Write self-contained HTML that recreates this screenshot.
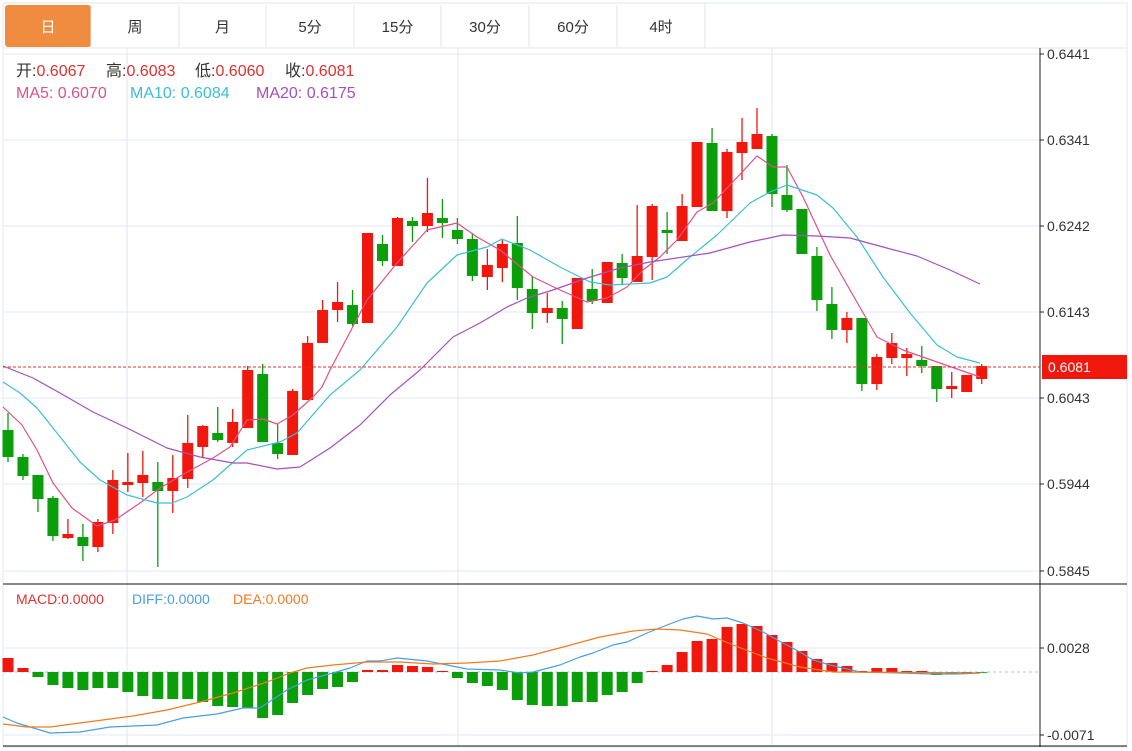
<!DOCTYPE html>
<html><head><meta charset="utf-8"><style>
html,body{margin:0;padding:0;background:#fff;width:1132px;height:751px;overflow:hidden}
body{font-family:"Liberation Sans","Noto Sans CJK SC",sans-serif}
svg{position:absolute;left:0;top:0}
</style></head><body>
<svg id="s" width="1132" height="751" xmlns="http://www.w3.org/2000/svg" font-family="Liberation Sans, Noto Sans CJK SC, sans-serif">
<rect x="3" y="3" width="1124" height="744" fill="#fff" stroke="#e3e8ee"/>
<g id="grid" stroke="#e6ecf2" stroke-width="1.3"></g>
<g id="main"></g>
</svg>
<script>
const s=document.getElementById('main');const g=document.getElementById('grid');
const NS='http://www.w3.org/2000/svg';
function el(p,t,a,txt){const e=document.createElementNS(NS,t);for(const k in a)e.setAttribute(k,a[k]);if(txt!==undefined)e.textContent=txt;p.appendChild(e);return e;}
[54,140,226,312,398,484,571,648,735].forEach(y=>el(g,'line',{x1:3,x2:1040,y1:y,y2:y}));
[127,458,772].forEach(x=>el(g,'line',{x1:x,x2:x,y1:48,y2:747}));
el(s,'rect',{x:3,y:3,width:702,height:45,fill:'#fff',stroke:'#e0e4e8'});
el(s,'line',{x1:3,x2:1127,y1:48,y2:48,stroke:'#e0e4e8'});
const tabs=['日','周','月','5分','15分','30分','60分','4时'];
const tx=[5,91,179,266,354,441,529,617,705];
tabs.forEach((t,i)=>{
 if(i==0)el(s,'rect',{x:5,y:5,width:86,height:42,rx:3,fill:'#f08c40'});
 else el(s,'line',{x1:tx[i],x2:tx[i],y1:5,y2:47,stroke:'#e0e4e8'});
 el(s,'text',{x:(tx[i]+tx[i+1])/2,y:32,'text-anchor':'middle','font-size':15,fill:i==0?'#fff':'#333'},t);
});
[[16,'开:','0.6067'],[106,'高:','0.6083'],[195,'低:','0.6060'],[285,'收:','0.6081']].forEach(a=>{
 const t=el(s,'text',{x:a[0],y:76,'font-size':16});
 el(t,'tspan',{fill:'#333'},a[1]);el(t,'tspan',{fill:'#e0312e'},a[2]);});
el(s,'text',{x:16,y:98,'font-size':16,fill:'#e0508a'},'MA5: 0.6070');
el(s,'text',{x:130,y:98,'font-size':16,fill:'#3bbfd6'},'MA10: 0.6084');
el(s,'text',{x:256,y:98,'font-size':16,fill:'#a54fc0'},'MA20: 0.6175');
el(s,'text',{x:16,y:604,'font-size':14,fill:'#e0312e'},'MACD:0.0000');
el(s,'text',{x:132,y:604,'font-size':14,fill:'#4a9fe0'},'DIFF:0.0000');
el(s,'text',{x:233,y:604,'font-size':14,fill:'#f07a22'},'DEA:0.0000');
el(s,'line',{x1:1040,x2:1040,y1:48,y2:747,stroke:'#222'});
el(s,'line',{x1:3,x2:1127,y1:584,y2:584,stroke:'#111'});
el(s,'line',{x1:3,x2:1127,y1:746,y2:746,stroke:'#111'});
[[54,'0.6441'],[140,'0.6341'],[226,'0.6242'],[312,'0.6143'],[398,'0.6043'],[484,'0.5944'],[571,'0.5845'],[648,'0.0028'],[735,'-0.0071']].forEach(a=>{
 el(s,'line',{x1:1040,x2:1044,y1:a[0],y2:a[0],stroke:'#222'});
 el(s,'text',{x:1047,y:a[0]+5,'font-size':14,fill:'#333'},a[1]);});
const C=[[430,457,413,462],[457,476,454,480],[475,499,475,512],[498,536,496,541],[538,534,519,539],[537,546,524,561],[547,522,519,552],[523,480,470,534],[485,482,453,492],[483,475,451,497],[482,491,462,567],[491,478,455,513],[479,443,415,488],[447,426,425,457],[433,440,407,442],[443,422,409,447],[428,370,366,428],[374,442,364,442],[443,454,424,459],[455,391,389,455],[400,343,336,400],[343,310,300,343],[310,302,282,322],[305,324,290,326],[323,233,233,323],[244,261,235,266],[266,218,217,266],[221,226,217,242],[226,213,178,232],[218,223,199,238],[230,239,218,244],[239,276,233,281],[277,265,249,290],[268,244,240,282],[243,288,216,300],[289,313,276,329],[313,308,293,323],[308,319,301,344],[329,278,278,329],[289,301,269,304],[303,262,262,303],[263,278,254,284],[282,256,205,282],[257,206,204,280],[230,233,212,254],[241,206,194,241],[207,142,142,207],[143,211,128,211],[211,152,149,218],[153,142,118,180],[149,134,108,149],[136,194,134,207],[195,210,165,212],[209,254,209,254],[256,300,247,311],[304,330,287,339],[330,318,312,343],[318,384,318,391],[384,357,354,390],[358,343,333,364],[358,354,348,376],[360,366,346,373],[366,389,366,402],[389,386,372,398],[392,375,375,392],[379,366,364,384]];
const X=i=>8+i*14.98;
C.forEach((c,i)=>{const x=X(i),up=c[1]<c[0],col=up?'#f0170c':'#0a9e0a';
 el(s,'line',{x1:x,x2:x,y1:c[2],y2:c[3],stroke:col,'stroke-width':1.3});
 const t=Math.min(c[0],c[1]),b=Math.max(c[0],c[1]);
 el(s,'rect',{x:x-5.5,y:t,width:11,height:Math.max(b-t,2.5),fill:col});});
function pl(pts,col,w){el(s,'polyline',{points:pts.map(p=>p.join(',')).join(' '),fill:'none',stroke:col,'stroke-width':w||1.2,'stroke-linejoin':'round'});}
pl([[3,407],[22,425],[37,450],[53,483],[72,508],[97,526],[115,520],[140,503],[160,488],[182,475],[213,458],[230,447],[247,420],[263,419],[277,424],[293,415],[313,397],[322,387],[330,370],[367,300],[397,263],[427,230],[457,223],[477,237],[500,250],[533,277],[560,290],[587,302],[607,298],[627,287],[643,270],[660,257],[677,240],[697,212],[713,203],[730,185],[757,156],[773,167],[787,167],[803,197],[830,255],[850,290],[877,337],[903,350],[937,362],[980,377]],'#e0508a');
pl([[3,382],[20,393],[37,408],[57,433],[80,462],[100,480],[127,495],[157,503],[172,503],[187,497],[213,480],[247,450],[280,442],[297,433],[330,395],[360,370],[397,327],[427,283],[457,255],[487,247],[502,239],[530,250],[560,267],[590,282],[610,285],[650,283],[667,277],[690,257],[717,235],[750,203],[770,192],[787,185],[817,195],[833,208],[857,237],[883,277],[910,313],[937,345],[957,357],[980,363]],'#3bbfd6');
pl([[3,366],[33,378],[60,393],[93,412],[127,428],[167,448],[200,457],[233,463],[247,463],[277,469],[300,467],[330,448],[360,425],[390,395],[420,370],[453,337],[480,323],[507,307],[527,298],[553,290],[587,278],[620,268],[650,262],[710,253],[750,242],[783,235],[817,236],[850,238],[883,247],[917,256],[950,270],[980,284]],'#a54fc0');
el(s,'line',{x1:3,x2:1040,y1:367,y2:367,stroke:'#e0312e','stroke-dasharray':'3,2'});
el(s,'rect',{x:1042,y:355,width:85,height:24,fill:'#f0170c'});
el(s,'text',{x:1048,y:372,'font-size':14,fill:'#fff'},'0.6081');
const M=[658,668,677,685,688,690,688,688,692,696,699,699,699,702,706,707,708,718,715,703,695,689,687,682,670,670,665,666,667,671,678,683,686,690,700,705,706,706,702,702,695,692,683,671,665,652,641,639,627,624,626,635,642,651,659,663,666,671,668,668,671,671,675,674,672,672];
const Z=672;
el(s,'line',{x1:3,x2:1040,y1:Z,y2:Z,stroke:'#9cc8e8','stroke-dasharray':'3,3'});
M.forEach((y,i)=>{const x=X(i);const up=y<Z;el(s,'rect',{x:x-5.5,y:Math.min(y,Z),width:11,height:Math.max(Math.abs(y-Z),0.8),fill:up?'#f0170c':'#0a9e0a'});});
pl([[3,717],[17,723],[50,733],[80,732],[110,727],[157,725],[183,718],[217,714],[243,708],[260,708],[287,690],[307,680],[333,673],[350,668],[367,661],[380,661],[397,658],[427,661],[467,669],[500,670],[520,673],[533,672],[560,665],[580,657],[593,653],[613,645],[627,642],[647,633],[667,625],[683,619],[697,616],[713,619],[727,618],[743,623],[763,632],[783,643],[800,652],[813,660],[830,665],[860,672],[900,673],[933,674],[957,674],[980,673]],'#4a9fe0');
pl([[3,724],[27,727],[50,727],[80,723],[133,716],[167,710],[200,702],[233,693],[267,682],[290,673],[307,668],[333,665],[367,662],[400,662],[433,664],[467,663],[500,661],[533,655],[567,646],[600,637],[633,631],[657,629],[680,630],[707,634],[733,645],[767,658],[800,667],[833,672],[980,673]],'#f07a22');
</script>
</body></html>
